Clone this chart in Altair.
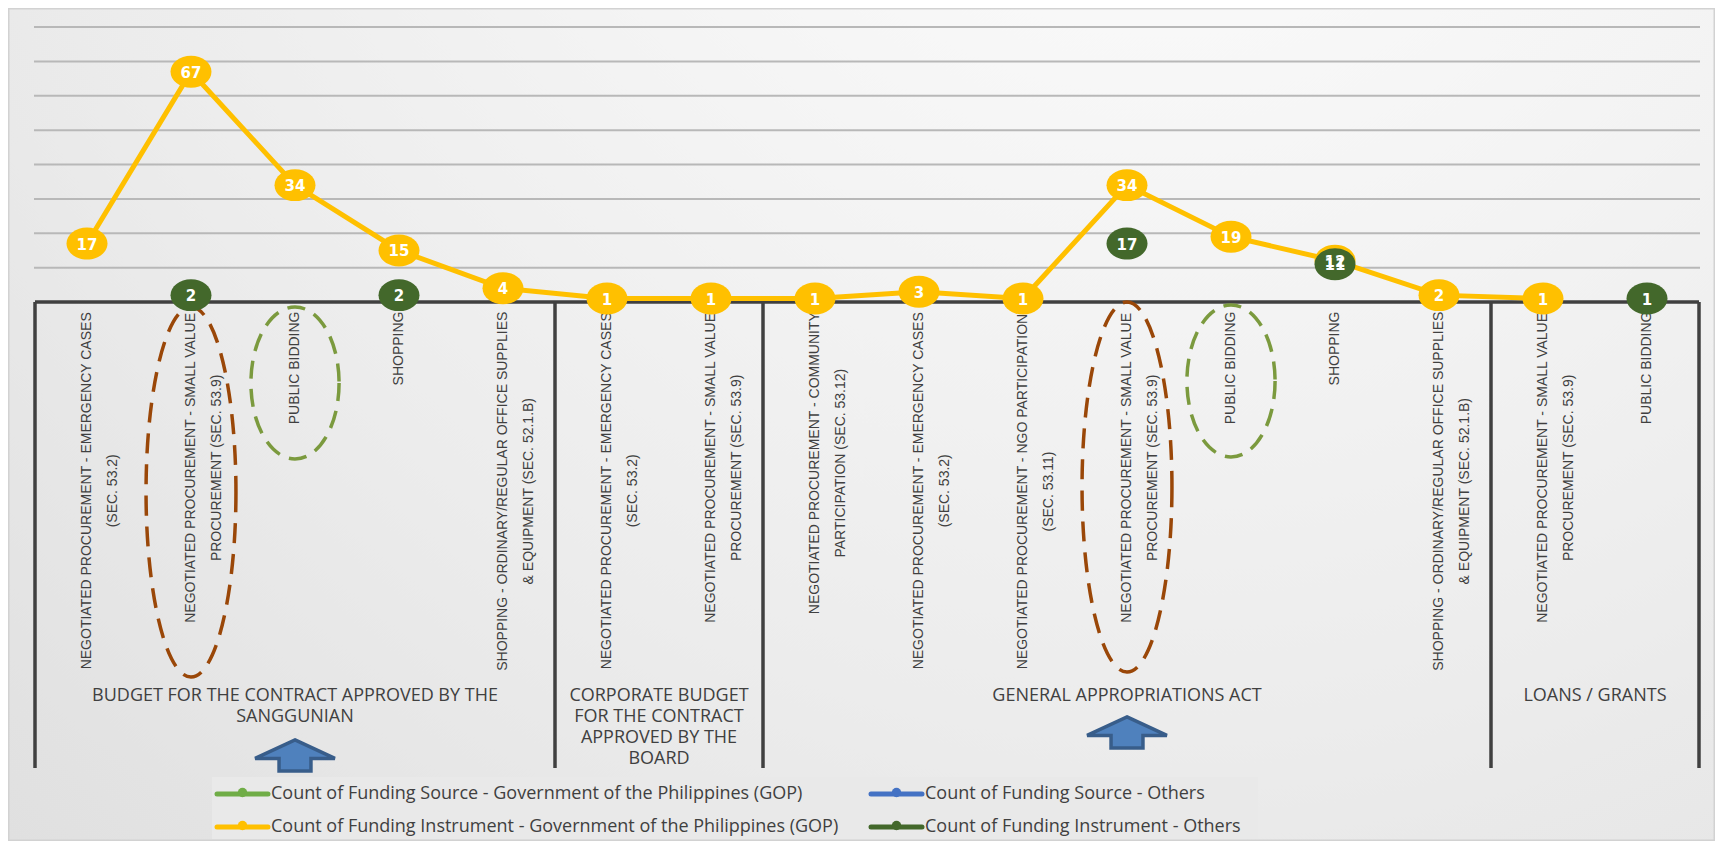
import altair as alt
import pandas as pd

# ---------------- data ----------------
categories = [
    "NEGOTIATED PROCUREMENT - EMERGENCY CASES\n(SEC. 53.2)",
    "NEGOTIATED PROCUREMENT - SMALL VALUE\nPROCUREMENT (SEC. 53.9)",
    "PUBLIC BIDDING",
    "SHOPPING",
    "SHOPPING - ORDINARY/REGULAR OFFICE SUPPLIES\n& EQUIPMENT (SEC. 52.1.B)",
    "NEGOTIATED PROCUREMENT - EMERGENCY CASES\n(SEC. 53.2)",
    "NEGOTIATED PROCUREMENT - SMALL VALUE\nPROCUREMENT (SEC. 53.9)",
    "NEGOTIATED PROCUREMENT - COMMUNITY\nPARTICIPATION (SEC. 53.12)",
    "NEGOTIATED PROCUREMENT - EMERGENCY CASES\n(SEC. 53.2)",
    "NEGOTIATED PROCUREMENT - NGO PARTICIPATION\n(SEC. 53.11)",
    "NEGOTIATED PROCUREMENT - SMALL VALUE\nPROCUREMENT (SEC. 53.9)",
    "PUBLIC BIDDING",
    "SHOPPING",
    "SHOPPING - ORDINARY/REGULAR OFFICE SUPPLIES\n& EQUIPMENT (SEC. 52.1.B)",
    "NEGOTIATED PROCUREMENT - SMALL VALUE\nPROCUREMENT (SEC. 53.9)",
    "PUBLIC BIDDING",
]
category_group = [0, 0, 0, 0, 0, 1, 1, 2, 2, 2, 2, 2, 2, 2, 3, 3]
groups = [
    "BUDGET FOR THE CONTRACT APPROVED BY THE\nSANGGUNIAN",
    "CORPORATE BUDGET\nFOR THE CONTRACT\nAPPROVED BY THE\nBOARD",
    "GENERAL APPROPRIATIONS ACT",
    "LOANS / GRANTS",
]
gop_instrument = [17, 67, 34, 15, 4, 1, 1, 1, 3, 1, 34, 19, 12, 2, 1, None]
others_instrument = [None, 2, None, 2, None, None, None, None, None, None, 17, None, 11, None, None, 1]

series_names = [
    "Count of Funding Source - Government of the Philippines (GOP)",
    "Count of Funding Source - Others",
    "Count of Funding Instrument - Government of the Philippines (GOP)",
    "Count of Funding Instrument - Others",
]
series_colors = ["#70AD47", "#4472C4", "#FFC000", "#43682B"]

# ---------------- layout ----------------
W, H = 1707, 833
n = len(categories)
xscale = alt.Scale(domain=[-0.5, n - 0.5], range=[27, 1691], nice=False, zero=False)
yscale = alt.Scale(domain=[0, 80], range=[294, 19], nice=False, zero=False)

ARIAL = {" ": .278, "&": .667, "(": .333, ")": .333, "-": .333, ".": .278, "/": .278,
         "A": .667, "B": .667, "C": .722, "D": .722, "E": .667, "F": .611, "G": .778,
         "H": .722, "I": .278, "J": .5, "K": .667, "L": .556, "M": .833, "N": .722,
         "O": .778, "P": .667, "Q": .778, "R": .722, "S": .667, "T": .611, "U": .722,
         "V": .667, "W": .944, "X": .667, "Y": .667, "Z": .611}
CAT_FS = 14


def text_width(s, fs):
    return sum(ARIAL.get(c, .556) for c in s) * fs


def ellipse_path(rx, ry):
    k = 0.5523
    r = lambda v: f"{v:.4f}"
    return (f"M{r(rx)},0 C{r(rx)},{r(k*ry)} {r(k*rx)},{r(ry)} 0,{r(ry)} "
            f"C{r(-k*rx)},{r(ry)} {r(-rx)},{r(k*ry)} {r(-rx)},0 "
            f"C{r(-rx)},{r(-k*ry)} {r(-k*rx)},{r(-ry)} 0,{r(-ry)} "
            f"C{r(k*rx)},{r(-ry)} {r(rx)},{r(-k*ry)} {r(rx)},0 Z")


ARROW = "M0,-0.37 L0.95,0.07 L0.38,0.07 L0.38,0.37 L-0.38,0.37 L-0.38,0.07 L-0.95,0.07 Z"
MARKER = ellipse_path(1, 0.78)

# ---------------- tables ----------------
idx = list(range(n))
yellow = pd.DataFrame({"idx": idx, "v": gop_instrument}).dropna()
green = pd.DataFrame({"idx": idx, "v": others_instrument}).dropna()
values_df = pd.concat([yellow, green], ignore_index=True)
values_df["lab"] = values_df["v"].astype(int).astype(str)

label_df = pd.DataFrame({
    "idx": idx,
    "label": categories,
    "ly": [303.5 + max(text_width(s, CAT_FS) for s in c.split("\n")) / 2 for c in categories],
})

group_idx = []
bounds = [-0.5]
for g in range(len(groups)):
    members = [i for i, gg in enumerate(category_group) if gg == g]
    group_idx.append((members[0] + members[-1]) / 2)
    bounds.append(members[-1] + 0.5)
group_df = pd.DataFrame({"gx": group_idx, "label": groups})
bound_df = pd.DataFrame({"b": bounds})
grid_df = pd.DataFrame({"v": list(range(10, 81, 10))})
one = pd.DataFrame({"a": [0]})

brown_ell = pd.DataFrame({"idx": [1, 10], "cy": [484, 479]})
green_ell = pd.DataFrame({"idx": [2, 11], "cy": [375, 373]})
arrows_df = pd.DataFrame({"idx": [group_idx[0], group_idx[2]], "cy": [747.5, 724.5]})

leg_x = [209, 863]
leg_y = [786, 819]
legend_df = pd.DataFrame({
    "name": series_names,
    "color": series_colors,
    "x1": [leg_x[i % 2] for i in range(4)],
    "ly": [leg_y[i // 2] for i in range(4)],
})
legend_df["x2"] = legend_df["x1"] + 51
legend_df["xm"] = legend_df["x1"] + 25.5
legend_df["tx"] = legend_df["x1"] + 54
legend_df["my"] = legend_df["ly"] - 1.5

# ---------------- layers ----------------
bg = alt.Chart(one).mark_rect(
    fill={"gradient": "radial",
          "stops": [{"offset": 0, "color": "#ffffff"},
                    {"offset": 0.55, "color": "#ececec"},
                    {"offset": 0.85, "color": "#dfdfdf"},
                    {"offset": 1, "color": "#d9d9d9"}],
          "x1": 0.68, "y1": 0.02, "r1": 0, "x2": 0.68, "y2": 0.02, "r2": 1.2},
    stroke="#d2d2d2", strokeWidth=1.5,
).encode(x=alt.value(0.75), x2=alt.value(W - 0.75), y=alt.value(0.75), y2=alt.value(H - 0.75))

legend_box = alt.Chart(one).mark_rect(fill="#e9e9e9").encode(
    x=alt.value(204), x2=alt.value(1250), y=alt.value(769), y2=alt.value(831))

grid = alt.Chart(grid_df).mark_rule(color="#b8b8b8", strokeWidth=2).encode(
    y=alt.Y("v:Q", scale=yscale, axis=None),
    x=alt.value(26), x2=alt.value(1692))

cat_labels = alt.Chart(label_df).mark_text(
    angle=270, align="center", baseline="middle", font="Liberation Sans",
    fontSize=CAT_FS, lineHeight=26, lineBreak="\n", color="#404040",
).encode(x=alt.X("idx:Q", scale=xscale, axis=None),
         y=alt.Y("ly:Q", scale=None, axis=None),
         text="label:N")

group_labels = alt.Chart(group_df).mark_text(
    align="center", baseline="top", font="Open Sans", fontSize=18, lineHeight=21,
    lineBreak="\n", color="#404040",
).encode(x=alt.X("gx:Q", scale=xscale, axis=None), y=alt.value(679), text="label:N")

separators = alt.Chart(bound_df).mark_rule(color="#404040", strokeWidth=3.5).encode(
    x=alt.X("b:Q", scale=xscale, axis=None), y=alt.value(294), y2=alt.value(760))

baseline = alt.Chart(one).mark_rule(color="#404040", strokeWidth=3.5).encode(
    y=alt.Y(datum=0, scale=yscale, axis=None),
    x=alt.X(datum=-0.5, scale=xscale, axis=None), x2=alt.X2(datum=n - 0.5))

ell_brown = alt.Chart(brown_ell).mark_point(
    shape=ellipse_path(0.243, 1), size=370 ** 2, filled=False, stroke="#9a4708",
    strokeWidth=3.5, strokeDash=[20, 11], opacity=1,
).encode(x=alt.X("idx:Q", scale=xscale, axis=None), y=alt.Y("cy:Q", scale=None, axis=None))

ell_green = alt.Chart(green_ell).mark_point(
    shape=ellipse_path(0.58, 1), size=152 ** 2, filled=False, stroke="#7b9a3e",
    strokeWidth=3.5, strokeDash=[18, 10], opacity=1,
).encode(x=alt.X("idx:Q", scale=xscale, axis=None), y=alt.Y("cy:Q", scale=None, axis=None))

arrows = alt.Chart(arrows_df).mark_point(
    shape=ARROW, size=84 ** 2, filled=True, fill="#4F81BD", stroke="#385D8A",
    strokeWidth=3.5, opacity=1, strokeJoin="miter",
).encode(x=alt.X("idx:Q", scale=xscale, axis=None), y=alt.Y("cy:Q", scale=None, axis=None))

line = alt.Chart(yellow).mark_line(color="#FFC000", strokeWidth=5).encode(
    x=alt.X("idx:Q", scale=xscale, axis=None), y=alt.Y("v:Q", scale=yscale, axis=None))

pts_yellow = alt.Chart(yellow).mark_point(
    shape=MARKER, size=41 ** 2, filled=True, color="#FFC000", opacity=1).encode(
    x=alt.X("idx:Q", scale=xscale, axis=None), y=alt.Y("v:Q", scale=yscale, axis=None))

pts_green = alt.Chart(green).mark_point(
    shape=MARKER, size=41 ** 2, filled=True, color="#43682B", opacity=1).encode(
    x=alt.X("idx:Q", scale=xscale, axis=None), y=alt.Y("v:Q", scale=yscale, axis=None))

value_text = alt.Chart(values_df).mark_text(
    color="white", font="DejaVu Sans", fontWeight="bold", fontSize=15,
    align="center", baseline="middle", dy=1).encode(
    x=alt.X("idx:Q", scale=xscale, axis=None), y=alt.Y("v:Q", scale=yscale, axis=None),
    text="lab:N")

leg_lines = alt.Chart(legend_df).mark_rule(strokeWidth=5, strokeCap="round").encode(
    x=alt.X("x1:Q", scale=None, axis=None), x2="x2:Q",
    y=alt.Y("ly:Q", scale=None, axis=None),
    color=alt.Color("color:N", scale=None, legend=None))

leg_marks = alt.Chart(legend_df).mark_point(shape="circle", size=90, filled=True, opacity=1).encode(
    x=alt.X("xm:Q", scale=None, axis=None), y=alt.Y("my:Q", scale=None, axis=None),
    color=alt.Color("color:N", scale=None, legend=None))

leg_text = alt.Chart(legend_df).mark_text(
    align="left", baseline="middle", font="Open Sans", fontSize=18, color="#404040").encode(
    x=alt.X("tx:Q", scale=None, axis=None), y=alt.Y("ly:Q", scale=None, axis=None),
    text="name:N")

chart = alt.layer(
    bg, legend_box, grid, cat_labels, group_labels, separators, baseline,
    ell_brown, ell_green, arrows, line, pts_yellow, pts_green, value_text,
    leg_lines, leg_marks, leg_text,
).properties(
    width=W, height=H, padding=0, autosize=alt.AutoSizeParams(type="none"),
).configure_view(strokeWidth=0)

chart.save("out.html", embed_options={"renderer": "svg", "actions": False})
